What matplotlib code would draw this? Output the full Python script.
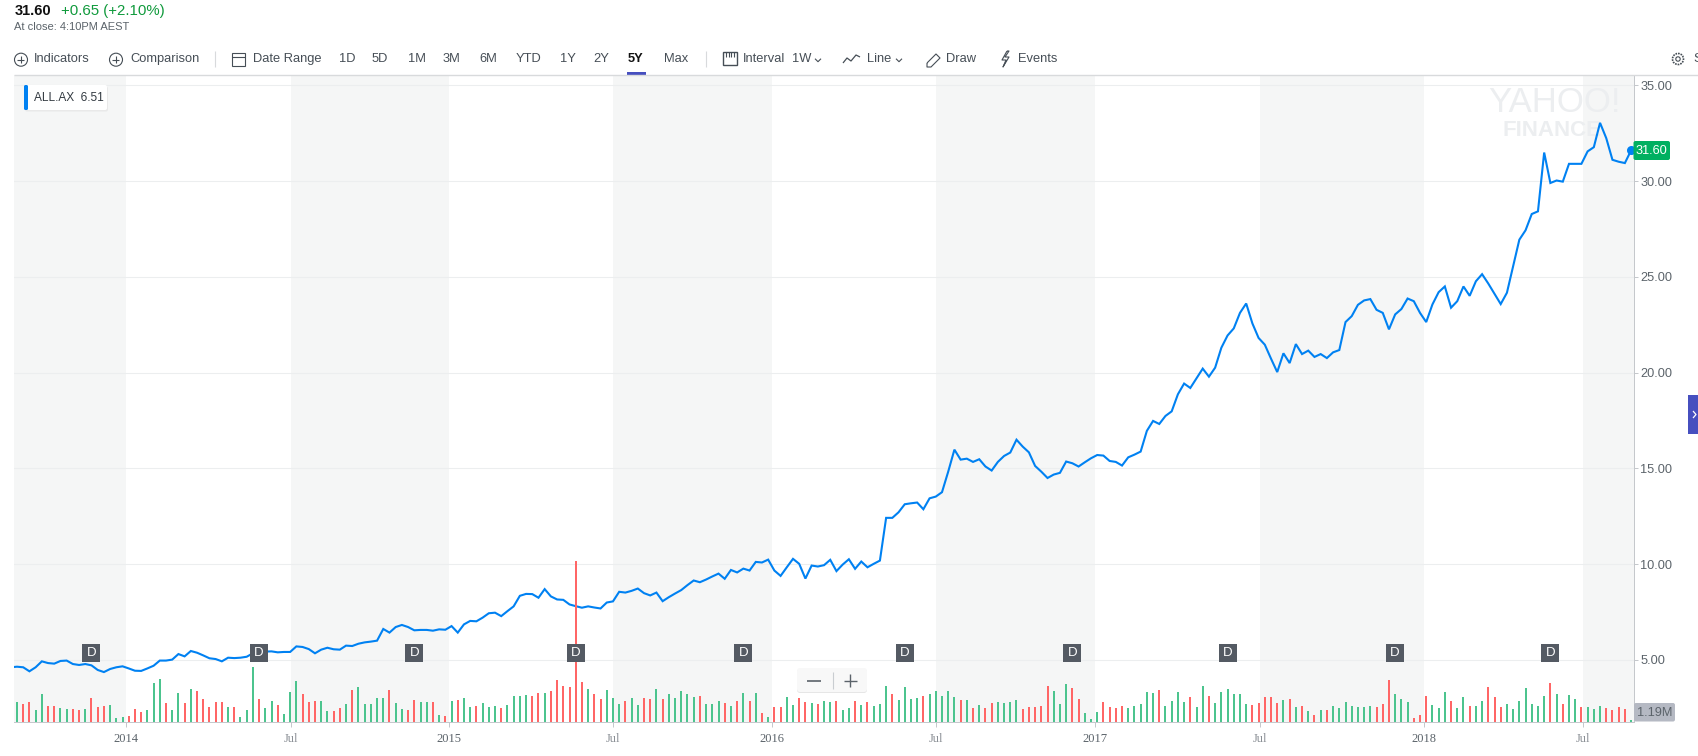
import matplotlib
matplotlib.use('Agg')
import matplotlib.pyplot as plt
from matplotlib.patches import Circle, FancyBboxPatch, Rectangle
import numpy as np

# Weekly closes (first value sits just left of the axes)
prices = [
    4.62,
    4.65, 4.62, 4.41, 4.62, 4.93, 4.84, 4.81, 4.95, 4.97, 4.79,
    4.74, 4.79, 4.72, 4.48, 4.37, 4.53, 4.62, 4.67, 4.56, 4.44,
    4.43, 4.56, 4.70, 4.97, 4.97, 5.02, 5.31, 5.19, 5.47, 5.38,
    5.24, 5.09, 5.05, 4.93, 5.12, 5.10, 5.12, 5.17, 5.35, 5.38,
    5.44, 5.45, 5.40, 5.42, 5.42, 5.71, 5.68, 5.57, 5.35, 5.54,
    5.64, 5.56, 5.54, 5.75, 5.73, 5.85, 5.92, 5.96, 6.01, 6.62,
    6.43, 6.72, 6.83, 6.72, 6.55, 6.57, 6.57, 6.53, 6.60, 6.58,
    6.77, 6.43, 6.86, 7.04, 7.02, 7.21, 7.44, 7.47,
    7.29, 7.55, 7.80, 8.35, 8.45, 8.44, 8.25, 8.70, 8.32, 8.16,
    8.14, 7.90, 7.81, 7.73, 7.80, 7.74, 7.69, 8.00, 8.06, 8.56,
    8.52, 8.61, 8.73, 8.49, 8.37, 8.52, 8.07, 8.28, 8.47, 8.65,
    8.91, 9.15, 9.06, 9.20, 9.36, 9.51, 9.24, 9.70, 9.57, 9.77,
    9.67, 10.12, 10.09, 10.24, 9.67, 9.39, 9.84, 10.28, 10.02, 9.25,
    9.93, 9.88, 9.95, 10.23, 9.64, 9.98, 10.26, 9.76, 10.14, 9.84,
    10.02, 10.19, 12.42, 12.42, 12.71, 13.13, 13.18, 13.22, 12.87, 13.44,
    13.53, 13.76, 14.83, 15.98, 15.46, 15.51, 15.34, 15.48, 15.10, 14.89,
    15.34, 15.65, 15.83, 16.50, 16.14, 15.84, 15.13, 14.83, 14.50, 14.68,
    14.77, 15.36, 15.27, 15.10, 15.32, 15.53, 15.70, 15.67, 15.39, 15.34,
    15.15, 15.58, 15.72, 15.88, 16.96, 17.48, 17.32, 17.74, 17.98, 18.87,
    19.43, 19.20, 19.70, 20.21, 19.79, 20.26, 21.30, 21.94, 22.31, 23.12,
    23.61, 22.57, 21.81, 21.46, 20.73, 20.03, 21.01, 20.50, 21.49, 20.97,
    21.15, 20.82, 20.97, 20.76, 21.06, 21.18, 22.64, 22.95, 23.54, 23.77,
    23.84, 23.28, 23.12, 22.26, 23.04, 23.32, 23.87, 23.73, 23.12, 22.64,
    23.56, 24.20, 24.50, 23.39, 23.73, 24.50, 24.01, 24.77, 25.14, 24.65,
    24.11, 23.58, 24.17, 25.56, 26.94, 27.43, 28.28, 28.42, 31.49, 29.90,
    30.03, 29.97, 30.90, 30.90, 30.90, 31.55, 31.77, 33.04, 32.24, 31.11,
    31.01, 30.94, 31.60,
]

# Weekly volume in millions (estimated, the axis carries no scale)
volumes = [
    2.0, 1.8, 2.0, 1.2, 2.8, 1.6, 1.6, 1.4, 1.3, 1.3,
    1.2, 1.3, 2.4, 1.5, 1.6, 1.7, 0.4, 0.5, 0.6, 1.3,
    1.0, 1.2, 3.9, 4.3, 1.9, 1.2, 2.9, 1.9, 3.3, 3.1,
    2.3, 1.5, 2.0, 2.0, 1.5, 1.5, 0.5, 1.2, 5.5, 2.3,
    1.4, 2.1, 1.7, 0.8, 3.0, 4.1, 2.8, 2.0, 2.1, 2.1,
    1.1, 1.1, 1.4, 1.8, 3.2, 3.5, 1.8, 1.8, 2.4, 2.4,
    3.2, 1.9, 1.3, 1.2, 2.2, 2.0, 2.0, 2.0, 0.7, 0.6,
    2.1, 2.2, 2.4, 1.5, 1.6, 1.9, 1.5, 1.6,
    1.4, 1.7, 2.6, 2.6, 2.7, 2.6, 2.9, 2.9, 3.1, 4.2, 3.6, 3.5,
    16.1, 4.0, 3.3, 2.8, 2.3, 3.2, 2.4, 1.8, 2.1, 2.4,
    1.7, 2.4, 2.3, 3.3, 2.3, 2.8, 2.4, 3.1, 2.8, 2.5,
    2.6, 1.8, 1.8, 2.1, 1.9, 1.6, 2.1, 2.9, 2.1, 2.9,
    0.9, 0.5, 1.5, 1.5, 2.5, 1.7, 2.4, 2.0, 1.9, 1.8,
    2.1, 2.0, 2.1, 1.2, 1.4, 2.1, 1.7, 2.0, 1.6, 1.8,
    3.6, 2.8, 2.2, 3.5, 2.3, 2.4, 2.6, 2.8, 3.1, 2.6,
    3.1, 2.5, 2.2, 2.2, 1.4, 1.7, 1.4, 1.9, 2.0,
    1.9, 2.0, 2.2, 1.3, 1.5, 1.5, 1.6, 3.6, 3.1, 1.8,
    3.8, 3.4, 2.3, 0.9, 0.3, 1.0, 2.0, 1.5, 1.4, 1.6,
    1.4, 1.6, 1.8, 3.0, 2.9, 3.2, 1.6, 2.1, 3.0, 2.0,
    2.5, 1.5, 3.6, 2.6, 1.9, 3.0, 3.3, 2.8, 2.8, 1.8,
    1.7, 1.9, 2.5, 2.5, 1.9, 2.2, 2.3, 1.5, 1.6, 1.1,
    0.7, 1.2, 1.2, 1.6, 1.4, 2.0, 1.6, 1.5, 1.5, 1.6,
    1.5, 1.8, 4.2, 2.8, 2.3, 2.0, 0.4, 0.7, 2.6, 1.7,
    1.4, 3.0, 2.1, 1.4, 2.5, 1.6, 1.6, 2.1, 3.5, 2.5,
    1.5, 1.8, 1.3, 2.1, 3.4, 1.8, 1.6, 2.6, 3.9, 2.8,
    1.8, 2.7, 2.3, 1.5, 1.5, 1.3, 1.6, 1.4, 1.2, 1.5,
    1.3, 0.2,
]

# u = green bar, d = red bar, rows laid out as in volumes above
vol_dir = ''.join([
    'udduudduud',
    'duddduuudd',
    'duuuduudud',
    'dddduduuud',
    'uuduuudddu',
    'udduduuuuu',
    'duudduudud',
    'uduuduuu',
    'duuuuddudddd',
    'ddudduuudu',
    'udduduuuuu',
    'duuudududu',
    'dudduuddud',
    'uuduududuu',
    'uduuuuduuu',
    'uudududdu',
    'uuuddddduu',
    'udduuudddd',
    'uuuuuduuuu',
    'duuduuuuuu',
    'dddddududu',
    'duduuuuuuu',
    'ddduuudddu',
    'uuduuduudd',
    'duuuuuuudu',
    'duuduuuddd',
    'du',
])

years_ticks = [17.5, 44.1, 69.6, 96.0, 121.6, 148.1, 173.7, 200.3, 226.6, 252.3]
tick_labels = ['2014', 'Jul', '2015', 'Jul', '2016', 'Jul', '2017', 'Jul', '2018', 'Jul']
price_ticks = [5, 10, 15, 20, 25, 30, 35]
dividend_weeks = [12, 39, 64, 90, 117, 143, 170, 195, 222, 247]
DIV_PRICE = 5.37   # the D badges all sit at this height

BLUE = '#0081f2'
GREEN = '#4cc48e'
RED = '#ff6666'
TEXT = '#464e56'
SOFT = '#5b636a'
BAND = '#f5f6f6'
UI_FONT = 'Liberation Sans'

W, H = 1699, 756
AX_L, AX_R, AX_T, AX_B = 14, 1634, 75, 722
WEEK_PX = 6.208

fig = plt.figure(figsize=(W / 100, H / 100), dpi=100, facecolor='white')

# full-figure overlay in pixels, for the toolbar and other page furniture
ui = fig.add_axes([0, 0, 1, 1], zorder=5)
ui.set_xlim(0, W)
ui.set_ylim(H, 0)
ui.axis('off')
ui.patch.set_alpha(0)

ax = fig.add_axes([AX_L / W, 1 - AX_B / H, (AX_R - AX_L) / W, (AX_B - AX_T) / H], zorder=1)
ax.set_xlim((AX_L - 17) / WEEK_PX, (AX_R - 17) / WEEK_PX)
ax.set_ylim(5 - (AX_B - 660) / 19.157, 5 + (660 - AX_T) / 19.157)

# volume bars on their own scale, 1M = 10 px
axv = ax.twinx()
axv.set_ylim(0, (AX_B - AX_T) / 10)
axv.axis('off')

# alternating half-year bands, bounded by the date ticks
edges = [ax.get_xlim()[0]] + years_ticks + [ax.get_xlim()[1]]
for k in range(0, len(edges) - 1, 2):
    ax.axvspan(edges[k], edges[k + 1], color=BAND, lw=0, zorder=0)

ax.yaxis.grid(True, color='#eceeef', lw=0.75)
ax.xaxis.grid(False)
ax.set_axisbelow(True)
ax.yaxis.tick_right()
ax.set_yticks(price_ticks)
ax.set_yticklabels(['%.2f' % p for p in price_ticks], fontsize=9.2, color=SOFT, family=UI_FONT)
ax.set_xticks(years_ticks)
ax.set_xticklabels(tick_labels, fontsize=9, family='Liberation Serif')
for lab in ax.get_xticklabels():
    lab.set_color('#8a8f95' if lab.get_text() == 'Jul' else '#5b636a')
ax.tick_params(axis='y', length=3, width=0.72, color='#c5c8cc', pad=1.5)
ax.tick_params(axis='x', length=3.6, width=0.72, color='#c5c8cc', pad=4)
ax.spines[['top', 'left']].set_visible(False)
ax.spines[['right', 'bottom']].set_color('#c5c8cc')
ax.spines[['right', 'bottom']].set_linewidth(0.72)

# watermark sits under the price line
ax.text(1554, 102, 'YAHOO!', transform=ui.transData, ha='center', va='center', fontsize=25,
        color='#eceef0', family=UI_FONT, zorder=1.5)
ax.text(1552, 130, 'FINANCE', transform=ui.transData, ha='center', va='center', fontsize=16,
        color='#eceef0', family=UI_FONT, fontweight='bold', zorder=1.5)

weeks = np.arange(-1, len(prices) - 1)
ax.plot(weeks, prices, color=BLUE, lw=1.5, solid_joinstyle='miter', zorder=3)
ax.plot([weeks[-1]], [prices[-1]], 'o', color=BLUE, ms=6.5, mew=0, clip_on=False, zorder=4)

bar_x = np.arange(len(volumes))
bar_col = [GREEN if c == 'u' else RED for c in vol_dir]
axv.bar(bar_x, volumes, width=0.322, color=bar_col, lw=0, zorder=2, snap=True)

# dividend badges
axv.plot(dividend_weeks, [DIV_PRICE] * len(dividend_weeks), 's', ms=13, color='#545a63', mew=0,
         transform=ax.transData, zorder=5)
for d in dividend_weeks:
    axv.text(d, DIV_PRICE, 'D', transform=ax.transData, ha='center', va='center', color='white',
             fontsize=9.5, family=UI_FONT, zorder=6)
axv.set_xlim(ax.get_xlim())
axv.set_ylim(0, (AX_B - AX_T) / 10)

# ── header and toolbar ──────────────────────────────────────────────────────
ui.text(14.5, 11, '31.60', fontsize=10.5, fontweight='bold', color='#111111', va='center', family=UI_FONT)
ui.text(61, 11, '+0.65 (+2.10%)', fontsize=10.8, color='#109a3c', va='center', family=UI_FONT)
ui.text(14, 27, 'At close: 4:10PM AEST', fontsize=8, color=SOFT, va='center', family=UI_FONT)

TOOL_Y = 58.7
toolbar = [('Indicators', 34), ('Comparison', 130), ('Date Range', 252.6), ('1D', 338.8), ('5D', 372),
           ('1M', 407.6), ('3M', 443), ('6M', 479), ('YTD', 515.5), ('1Y', 560), ('2Y', 593.5),
           ('Max', 664.5), ('Interval', 743), ('1W', 792), ('Line', 866.8), ('Draw', 946),
           ('Events', 1018), ('S', 1693)]
for name, x in toolbar:
    ui.text(x, TOOL_Y + 0.6, name, fontsize=9.3, color=TEXT, va='center', family=UI_FONT)
ui.text(627.6, TOOL_Y + 0.6, '5Y', fontsize=9.3, color='#111111', fontweight='bold', va='center', family=UI_FONT)
ui.add_patch(Rectangle((627, 71.6), 19, 3.2, fc='#464fbf', ec='none'))


def seg(xs, ys, color=TEXT, lw=0.8):
    ui.plot(xs, ys, color=color, lw=lw, solid_capstyle='butt')


def plus_icon(x):
    ui.add_patch(Circle((x, TOOL_Y + 1), 6.5, fc='none', ec=TEXT, lw=0.8))
    seg([x - 3.5, x + 3.5], [TOOL_Y + 1, TOOL_Y + 1])
    seg([x, x], [TOOL_Y - 2.5, TOOL_Y + 4.5])


def chevron(x):
    seg([x - 3, x, x + 3], [TOOL_Y, TOOL_Y + 3, TOOL_Y])


plus_icon(21)
plus_icon(116)
for x in (214.6, 706):
    seg([x, x], [51, 67], '#d8dadc', 0.8)
ui.add_patch(Rectangle((232.5, 53), 13, 13, fc='none', ec=TEXT, lw=0.8))
seg([232.5, 245.5], [57, 57])
ui.add_patch(Rectangle((723.5, 52), 14, 13, fc='none', ec=TEXT, lw=1.0))
for x in (726.5, 729, 731.5, 734.5):
    seg([x, x], [52, 57], TEXT, 0.8)
chevron(818)
chevron(899)
seg([843, 847, 851, 856, 860], [63, 58, 61, 55, 57], TEXT, 0.9)
seg([927, 936, 940, 931, 927, 927], [63, 54, 58, 67, 67, 63], TEXT, 0.8)
seg([1007, 1002, 1006, 1003, 1009, 1005, 1009, 1007], [51, 60, 60, 67, 57, 57, 51, 51], TEXT, 0.8)
ui.add_patch(Circle((1678, 59), 5.5, fc='none', ec=TEXT, lw=1.2, ls=(0, (1, 0.6))))
ui.add_patch(Circle((1678, 59), 2.2, fc='none', ec=TEXT, lw=0.8))
seg([14, W], [74.7, 74.7], '#d8dadc', 1.0)

# series tag, top left
ui.add_patch(FancyBboxPatch((25, 86.5), 83, 25, boxstyle='round,pad=0,rounding_size=2', fc='#e9e9e9', ec='none'))
ui.add_patch(FancyBboxPatch((24, 85), 83, 25, boxstyle='round,pad=0,rounding_size=2', fc='white', ec='none'))
ui.add_patch(FancyBboxPatch((24, 85), 4, 25, boxstyle='round,pad=0,rounding_size=1.5', fc=BLUE, ec='none'))
ui.text(34, 97.7, 'ALL.AX  6.51', fontsize=8.6, color='#333a41', va='center', family=UI_FONT)

# last price tag
ui.add_patch(FancyBboxPatch((1633.5, 141), 36.5, 19, boxstyle='round,pad=0,rounding_size=2', fc='#00b061', ec='none'))
ui.text(1651.7, 150.6, '31.60', fontsize=9.2, color='white', ha='center', va='center', family=UI_FONT)

# volume tag
ui.add_patch(FancyBboxPatch((1634, 703), 41, 18.5, boxstyle='round,pad=0,rounding_size=2', fc='#b5b9c3', ec='none'))
ui.text(1654.5, 712.5, '1.19M', fontsize=9.2, color=SOFT, ha='center', va='center', family=UI_FONT)

# zoom control over the volume bars
ui.add_patch(FancyBboxPatch((797, 669), 70, 24, boxstyle='round,pad=0,rounding_size=3', fc='#e6e6e6', ec='none'))
ui.add_patch(FancyBboxPatch((797, 668), 70, 24, boxstyle='round,pad=0,rounding_size=3', fc='#f8f8f8', ec='none'))
seg([807.5, 821], [680.5, 680.5], '#5b636a', 1.2)
seg([844, 857], [680.5, 680.5], '#5b636a', 1.0)
seg([850.5, 850.5], [674, 687], '#5b636a', 1.0)
seg([833.3, 833.3], [672, 689], '#c9cdd1', 0.8)

# side panel handle on the right edge
ui.add_patch(Rectangle((1688, 395), 11, 39, fc='#464fbf', ec='none'))
seg([1693, 1696, 1693], [411, 414.5, 418], 'white', 0.9)

fig.savefig('out.png', dpi=100, facecolor='white')
plt.close()
print(len(prices), len(volumes), len(vol_dir))
